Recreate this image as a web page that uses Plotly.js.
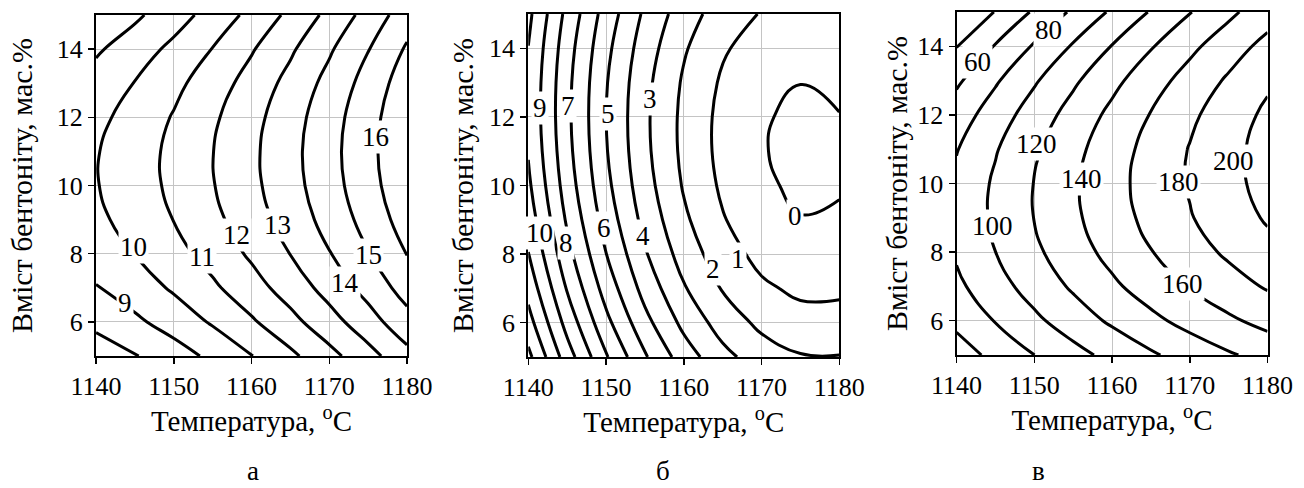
<!DOCTYPE html>
<html>
<head>
<meta charset="utf-8">
<script src="https://cdn.plot.ly/plotly-3.0.1.min.js"></script>
<style>html,body{margin:0;padding:0;background:#fff;}#chart{width:1304px;height:488px;}</style>
</head>
<body>
<div id="chart"></div>
<script>
// Temperature (°C) grid columns and bentonite content (wt.%) grid rows
const temperature = [1140, 1145, 1150, 1155, 1160, 1165, 1170, 1175, 1180];
const bentonite = [5, 6, 7, 8, 9, 10, 11, 12, 13, 14, 15];

// Panel а: values (rows = bentonite, cols = temperature)
const zA = [
  [7.41, 7.94, 8.55, 9.22, 9.97, 10.79, 11.69, 12.65, 13.69],
  [8.27, 8.81, 9.42, 10.11, 10.87, 11.70, 12.61, 13.59, 14.64],
  [8.95, 9.50, 10.13, 10.83, 11.60, 12.44, 13.37, 14.35, 15.42],
  [9.46, 10.02, 10.66, 11.37, 12.16, 13.02, 13.95, 14.95, 16.03],
  [9.79, 10.37, 11.02, 11.75, 12.54, 13.42, 14.36, 15.37, 16.46],
  [9.95, 10.54, 11.21, 11.95, 12.76, 13.64, 14.60, 15.63, 16.73],
  [9.94, 10.55, 11.23, 11.98, 12.80, 13.70, 14.67, 15.72, 16.83],
  [9.75, 10.37, 11.07, 11.84, 12.68, 13.59, 14.58, 15.63, 16.76],
  [9.39, 10.03, 10.74, 11.52, 12.38, 13.31, 14.31, 15.38, 16.53],
  [8.86, 9.51, 10.24, 11.03, 11.91, 12.85, 13.87, 14.96, 16.12],
  [8.15, 8.82, 9.56, 10.38, 11.27, 12.23, 13.26, 14.36, 15.54]
];
// Panel б
const zB = [
  [13.26, 10.48, 8.10, 6.11, 4.51, 3.30, 2.49, 2.07, 2.04],
  [12.39, 9.64, 7.28, 5.31, 3.74, 2.56, 1.77, 1.37, 1.36],
  [11.65, 8.92, 6.59, 4.64, 3.09, 1.93, 1.17, 0.80, 0.82],
  [11.03, 8.33, 6.02, 4.10, 2.57, 1.44, 0.70, 0.35, 0.40],
  [10.54, 7.86, 5.58, 3.68, 2.18, 1.07, 0.36, 0.03, 0.10],
  [10.18, 7.52, 5.26, 3.39, 1.91, 0.83, 0.14, -0.16, -0.07],
  [9.94, 7.31, 5.07, 3.23, 1.77, 0.71, 0.05, -0.23, -0.11],
  [9.82, 7.22, 5.01, 3.19, 1.76, 0.72, 0.08, -0.17, -0.03],
  [9.84, 7.26, 5.07, 3.27, 1.87, 0.86, 0.24, 0.01, 0.18],
  [9.98, 7.42, 5.26, 3.49, 2.11, 1.12, 0.53, 0.33, 0.52],
  [10.24, 7.71, 5.57, 3.82, 2.47, 1.51, 0.94, 0.76, 0.98]
];
// Panel в
const zC = [
  [50.2, 65.5, 79.9, 93.3, 105.8, 117.4, 128.0, 137.8, 146.6],
  [65.0, 80.9, 95.9, 110.0, 123.1, 135.2, 146.5, 156.8, 166.1],
  [75.8, 92.4, 108.0, 122.7, 136.4, 149.2, 161.0, 171.9, 181.9],
  [82.6, 99.9, 116.2, 131.5, 145.9, 159.3, 171.8, 183.3, 193.9],
  [85.4, 103.4, 120.4, 136.4, 151.4, 165.5, 178.7, 190.8, 202.1],
  [84.2, 102.9, 120.6, 137.3, 153.1, 167.9, 181.7, 194.5, 206.4],
  [79.0, 98.5, 116.9, 134.4, 150.9, 166.3, 180.9, 194.4, 207.0],
  [69.8, 90.0, 109.3, 127.5, 144.7, 160.9, 176.2, 190.5, 203.8],
  [56.6, 77.6, 97.7, 116.7, 134.7, 151.7, 167.7, 182.7, 196.7],
  [39.4, 61.3, 82.1, 101.9, 120.7, 138.5, 155.3, 171.1, 185.9],
  [18.2, 40.9, 62.6, 83.2, 102.9, 121.5, 139.1, 155.7, 171.3]
];

// Contour label texts and where they sit (temperature, bentonite)
const labelsA = ["9", "10", "11", "12", "13", "14", "15", "16"];
const labelPosA = [[1143.7, 6.55], [1144.8, 8.21], [1153.6, 7.91], [1158.1, 8.55], [1163.4, 8.84], [1172.0, 7.13], [1175.0, 7.96], [1175.9, 11.43]];
const labelsB = ["9", "7", "5", "3", "10", "8", "6", "4", "2", "1", "0"];
const labelPosB = [[1141.5, 12.27], [1145.1, 12.32], [1150.3, 12.08], [1155.7, 12.51], [1141.5, 8.62], [1144.9, 8.33], [1149.7, 8.76], [1154.8, 8.52], [1163.8, 7.56], [1167.0, 7.85], [1174.3, 9.10]];
const labelsC = ["60", "80", "100", "120", "140", "160", "180", "200"];
const labelPosC = [[1142.7, 13.55], [1151.8, 14.48], [1144.6, 8.77], [1150.3, 11.16], [1156.1, 10.14], [1169.1, 7.06], [1168.5, 10.04], [1175.6, 10.67]];

const xTitle = "Температура, <sup>o</sup>C";
const yTitle = "Вміст бентоніту, мас.%";
const panelLetters = ["а", "б", "в"];

const FONT = "Liberation Serif";
function tickFont() { return {family: FONT, size: 26, color: "black"}; }
function labelFont() { return {family: FONT, size: 27, color: "black"}; }

function contourTrace(z, xa, ya, start, end, size) {
  return {
    type: "contour", x: temperature, y: bentonite, z: z,
    xaxis: xa, yaxis: ya,
    contours: {coloring: "none", start: start, end: end, size: size, showlabels: false},
    line: {color: "black", width: 3, smoothing: 1.3},
    showscale: false, hoverinfo: "skip"
  };
}

const traces = [
  contourTrace(zA, "x", "y", 8, 16, 1),
  contourTrace(zB, "x2", "y2", 0, 13, 1),
  contourTrace(zC, "x3", "y3", 40, 200, 20)
];

function xAxis(domain, anchor) {
  return {
    domain: domain, anchor: anchor, range: [1140, 1180],
    tickvals: [1140, 1150, 1160, 1170, 1180],
    showgrid: true, gridcolor: "#c4c4c4", gridwidth: 1, zeroline: false,
    showline: true, linecolor: "black", linewidth: 2, mirror: true,
    ticks: "outside", ticklen: 6, tickwidth: 1.5, tickcolor: "black",
    tickfont: tickFont(),
    title: {text: xTitle, font: {family: FONT, size: 29, color: "black"}, standoff: 6}
  };
}
function yAxis(domain, anchor, standoff) {
  return {
    domain: domain, anchor: anchor, range: [5, 15],
    tickvals: [6, 8, 10, 12, 14],
    showgrid: true, gridcolor: "#c4c4c4", gridwidth: 1, zeroline: false,
    showline: true, linecolor: "black", linewidth: 2, mirror: true,
    ticks: "outside", ticklen: 6, tickwidth: 1.5, tickcolor: "black",
    tickfont: tickFont(),
    title: {text: yTitle, font: {family: FONT, size: 30, color: "black"}, standoff: standoff}
  };
}

const annotations = [];
function addLabels(texts, pos, xr, yr) {
  texts.forEach((t, i) => {
    annotations.push({
      text: t, x: pos[i][0], y: pos[i][1], xref: xr, yref: yr,
      xanchor: "center", yanchor: "middle",
      showarrow: false, bgcolor: "white", borderpad: 1, font: labelFont()
    });
  });
}
addLabels(labelsA, labelPosA, "x", "y");
addLabels(labelsB, labelPosB, "x2", "y2");
addLabels(labelsC, labelPosC, "x3", "y3");

const letterX = [253 / 1304, 663 / 1304, 1038 / 1304];
panelLetters.forEach((t, i) => {
  annotations.push({
    text: t, x: letterX[i], y: 1 - 471 / 488, xref: "paper", yref: "paper",
    xanchor: "center", yanchor: "middle",
    showarrow: false, font: {family: FONT, size: 27, color: "black"}
  });
});

const layout = {
  width: 1304, height: 488,
  margin: {l: 0, r: 0, t: 0, b: 0},
  paper_bgcolor: "white", plot_bgcolor: "white",
  font: {family: FONT, size: 26, color: "black"},
  showlegend: false,
  xaxis: xAxis([96 / 1304, 407 / 1304], "y"),
  yaxis: yAxis([1 - 356 / 488, 1 - 15 / 488], "x", 15),
  xaxis2: xAxis([528.3 / 1304, 839.3 / 1304], "y2"),
  yaxis2: yAxis([1 - 357 / 488, 1 - 14 / 488], "x2", 7),
  xaxis3: xAxis([956.5 / 1304, 1267.5 / 1304], "y3"),
  yaxis3: yAxis([1 - 355 / 488, 1 - 12 / 488], "x3", 1),
  annotations: annotations
};

Plotly.newPlot("chart", traces, layout, {staticPlot: true, displayModeBar: false});
</script>
</body>
</html>
